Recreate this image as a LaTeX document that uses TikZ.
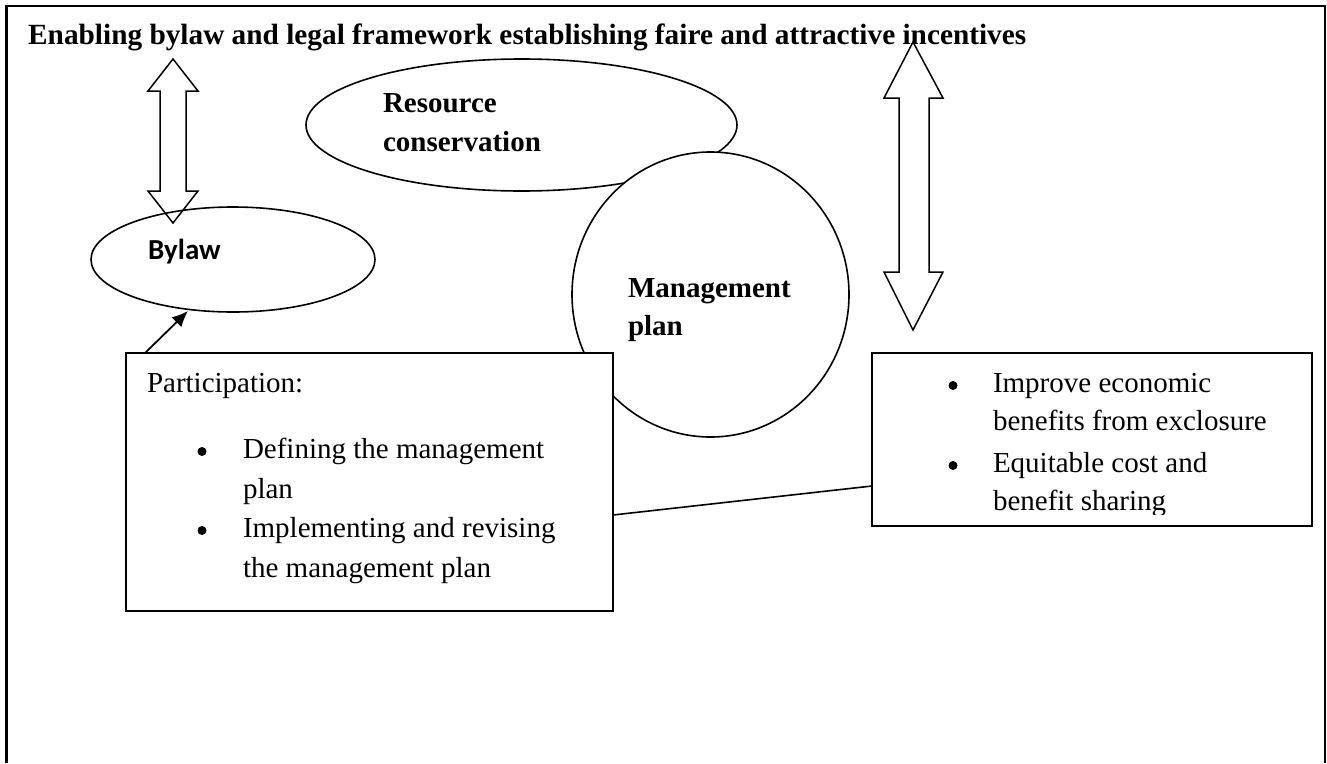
\documentclass[tikz,border=0pt]{standalone}
\usepackage{fontspec}
\setmainfont{Liberation Serif}
\newfontfamily\calib{Carlito}
\usetikzlibrary{arrows.meta,shapes.geometric}
\begin{document}
\begin{tikzpicture}[x=1pt,y=-1pt,
  shapeline/.style={draw=black,line width=1.6pt},
  txt/.style={anchor=base west,inner sep=0pt,outer sep=0pt,font=\fontsize{29}{34}\selectfont},
  btxt/.style={txt,font=\fontsize{29}{34}\selectfont\bfseries},
  bul/.style={circle,fill=black,inner sep=0pt,minimum size=9pt},
  oval/.style={ellipse,shapeline,fill=white,inner sep=0pt},
  box/.style={shapeline,fill=white},
  dblarrow/.style={draw=black,line width=1.5pt,line join=miter}]
\useasboundingbox (0,0) rectangle (1327,763);
% outer frame
\draw[line width=2.2pt] (6.5,763) -- (6.5,6) -- (1325,6) -- (1325,763);

% Resource conservation ellipse
\node[oval,minimum width=431pt,minimum height=132pt] (res) at (521.5,125) {};
\node[btxt] (restxt1) at (383,112) {Resource};
\node[btxt] (restxt2) at (383,151) {conservation};

% Management plan circle
\node[oval,minimum width=277pt,minimum height=285pt] (mp) at (710.5,294.5) {};
\node[btxt] (mptxt1) at (628,297) {Management};
\node[btxt] (mptxt2) at (628,335) {plan};

% Participation box
\draw[box] (126,353) rectangle (613,611);
\node[txt] (ptitle) at (147,392) {Participation:};
\node[bul] (pb1) at (202,451.5) {};
\node[txt] (p1a) at (243,458) {Defining the management};
\node[txt] (p1b) at (243,498) {plan};
\node[bul] (pb2) at (202,530.5) {};
\node[txt] (p2a) at (243,537) {Implementing and revising};
\node[txt] (p2b) at (243,577) {the management plan};

% Right box
\draw[box] (872,353) rectangle (1312,526);
\node[bul] (rb1) at (953,385.5) {};
\node[txt] (r1a) at (993,392) {Improve economic};
\node[txt] (r1b) at (993,430) {benefits from exclosure};
\node[bul] (rb2) at (953,465.5) {};
\node[txt] (r2a) at (993,472) {Equitable cost and};
\begin{scope}
  \clip (880,480) rectangle (1300,514.5);
  \node[txt] (r2b) at (993,510) {benefit sharing};
\end{scope}

% connector between boxes
\coordinate (pE) at (613,515);
\coordinate (rW) at (872,486);
\draw[line width=1.6pt] (pE) -- (rW);

% Bylaw ellipse
\node[oval,fill=none,minimum width=284pt,minimum height=105pt] (bylaw) at (233,259.5) {};
\node[anchor=base west,inner sep=0pt,font=\calib\fontsize{29}{34}\selectfont\bfseries] (bytxt) at (148,259) {Bylaw};

% arrow from participation box to bylaw
\coordinate (pa) at (145,353);
\coordinate (pbt) at (188,311);
\draw[line width=1.8pt,-{Latex[length=16pt,width=14pt]}] (pa) -- (pbt);

% left double arrow
\draw[dblarrow] (173,59) -- (198,91) -- (186,91) -- (186,191) -- (198,191) -- (173,223)
  -- (148,191) -- (160,191) -- (160,91) -- (148,91) -- cycle;
% right double arrow
\draw[dblarrow] (913,42) -- (943,98) -- (929,98) -- (929,272) -- (943,272) -- (913,330)
  -- (884,272) -- (899,272) -- (899,98) -- (884,98) -- cycle;

% title
\node[anchor=base west,inner sep=0pt,font=\fontsize{29.3}{34}\selectfont\bfseries] (title) at (28,44)
  {Enabling bylaw and legal framework establishing faire and attractive incentives};
\end{tikzpicture}
\end{document}
